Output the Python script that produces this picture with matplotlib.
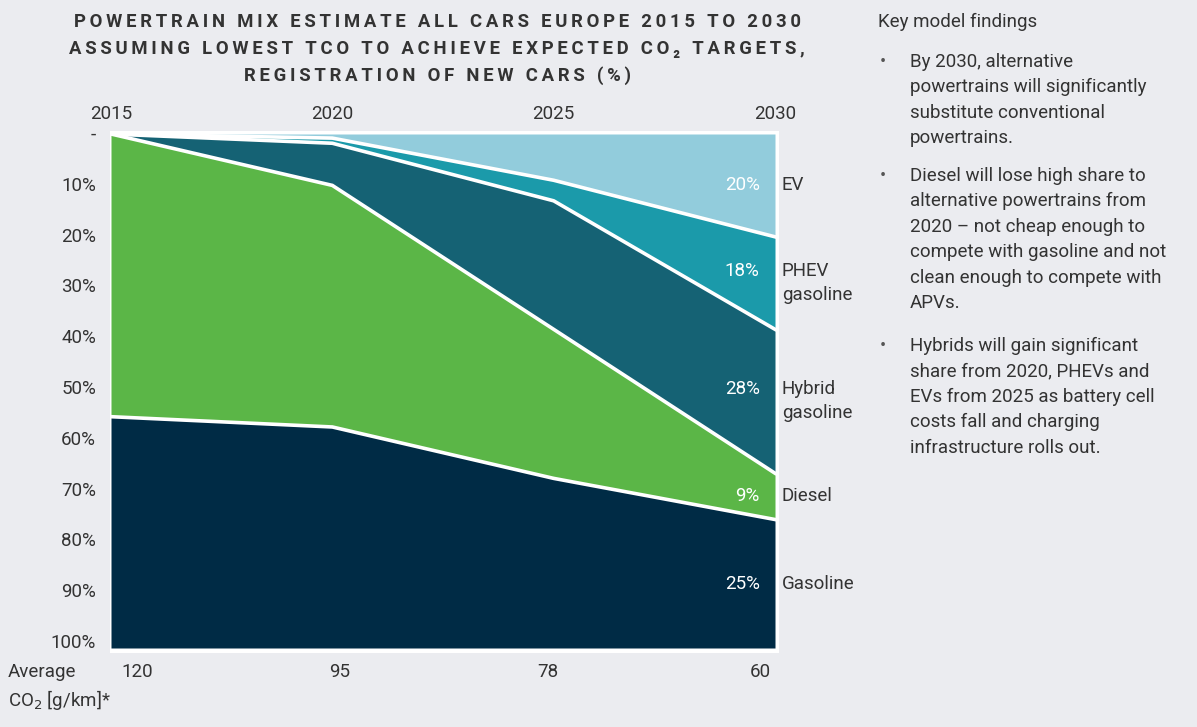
import matplotlib
matplotlib.use("Agg")
import matplotlib.pyplot as plt
import numpy as np

# Data (share of new car registrations, %), stacked from top to bottom
years = [2015, 2020, 2025, 2030]
co2_labels = ["120", "95", "78", "60"]
segments = ["EV", "PHEV\ngasoline", "Hybrid\ngasoline", "Diesel", "Gasoline"]
ev = [0, 0.8, 9, 20]
phev = [0, 1, 4, 18]
hybrid = [0, 8.2, 25, 28]
diesel = [55, 47, 29, 9]
gasoline = [45, 43, 33, 25]
end_labels = ["20%", "18%", "28%", "9%", "25%"]

colors = ["#92CCDC", "#1B9AAA", "#156274", "#5BB647", "#002B45"]
bg = "#EBECF0"
txt = "#333333"

plt.rcParams["font.family"] = ["Roboto", "DejaVu Sans"]

fig = plt.figure(figsize=(11.97, 7.27), dpi=100, facecolor=bg)
W, H = 1197, 727
ax = fig.add_axes([110 / W, 1 - 653 / H, 669 / W, 522 / H])
ax.set_facecolor("white")

series = [ev, phev, hybrid, diesel, gasoline]
bottom = np.zeros(len(years))
tops = []
for vals, c in zip(series, colors):
    top = bottom + np.array(vals, dtype=float)
    ax.fill_between(years, bottom, top, color=c, linewidth=0)
    tops.append((bottom.copy(), top.copy()))
    bottom = top
# white separators
for b, t in tops[:-1]:
    ax.plot(years, t, color="white", lw=2.6, solid_joinstyle="miter")

px_x = 664 / 15.0
px_y = 5.14
ax.set_xlim(2015 - 1 / px_x, 2030 + 4 / px_x)
ax.set_ylim(100 + 5 / px_y, -3 / px_y)
for s in ax.spines.values():
    s.set_visible(False)

# top year axis
ax.xaxis.tick_top()
ax.set_xticks(years)
ax.set_xticklabels([str(y) for y in years], fontsize=13.5, color=txt)
ax.tick_params(axis="x", length=0, pad=6)

# the percent scale in the original sits slightly tighter than the plot area
yt = list(range(0, 101, 10))
ax.set_yticks([(5.08 * v - 1) / px_y for v in yt])
ax.set_yticklabels(["-"] + [f"{v}%" for v in yt[1:]], fontsize=13.5, color=txt)
ax.tick_params(axis="y", length=0, pad=10)

# labels at the right edge
line_h = 25.0 / px_y
for name, lab, (b, t) in zip(segments, end_labels, tops):
    mid = (b[-1] + t[-1]) / 2
    ax.annotate(name, xy=(years[-1], mid), xytext=(5, 0), textcoords="offset points",
                ha="left", va="center", fontsize=13.5, color=txt, annotation_clip=False,
                linespacing=1.4)
    ypct = mid - line_h / 2 if "\n" in name else mid
    ax.annotate(lab, xy=(years[-1], ypct), xytext=(-11, 0), textcoords="offset points",
                ha="right", va="center", fontsize=13.5, color="white")

# average CO2 row
co2_x = [2015.6, 2020.17, 2024.87, 2029.66]
for x, lab in zip(co2_x, co2_labels):
    ax.annotate(lab, xy=(x, 0), xycoords=("data", "axes fraction"), xytext=(0, -13.7),
                textcoords="offset points", ha="center", va="center", fontsize=13.5,
                color=txt, annotation_clip=False)
fig.text(8 / W, 1 - 672 / H, "Average", fontsize=13.5, color=txt, va="center", ha="left")
fig.text(8 / W, 1 - 700 / H, "CO$_2$ [g/km]*", fontsize=13.5, color=txt, va="center", ha="left")

# title with letter spacing
ts = "\u2009"
title_lines = ["POWERTRAIN MIX ESTIMATE ALL CARS EUROPE 2015 TO 2030",
               "ASSUMING LOWEST TCO TO ACHIEVE EXPECTED CO\u2082 TARGETS,",
               "REGISTRATION OF NEW CARS (%)"]
for i, line in enumerate(title_lines):
    fig.text(437 / W, 1 - (22 + 27 * i) / H, ts.join(line), fontsize=13.3,
             fontweight="bold", color=txt, ha="center", va="center")

# key findings panel
fig.text(878 / W, 1 - 22 / H, "Key model findings", fontsize=13.5, color=txt,
         ha="left", va="center")
bullets = [
    ["By 2030, alternative", "powertrains will significantly",
     "substitute conventional", "powertrains."],
    ["Diesel will lose high share to", "alternative powertrains from",
     "2020 \u2013 not cheap enough to", "compete with gasoline and not",
     "clean enough to compete with", "APVs."],
    ["Hybrids will gain significant", "share from 2020, PHEVs and",
     "EVs from 2025 as battery cell", "costs fall and charging",
     "infrastructure rolls out."],
]
starts = [62, 176, 346]
for lines, y0 in zip(bullets, starts):
    fig.text(880 / W, 1 - y0 / H, "\u2022", fontsize=13, color="#555555",
             ha="left", va="center")
    for j, ln in enumerate(lines):
        fig.text(910 / W, 1 - (y0 + 25.4 * j) / H, ln, fontsize=13.5, color=txt,
                 ha="left", va="center")

fig.savefig("out.png", dpi=100, facecolor=bg)
